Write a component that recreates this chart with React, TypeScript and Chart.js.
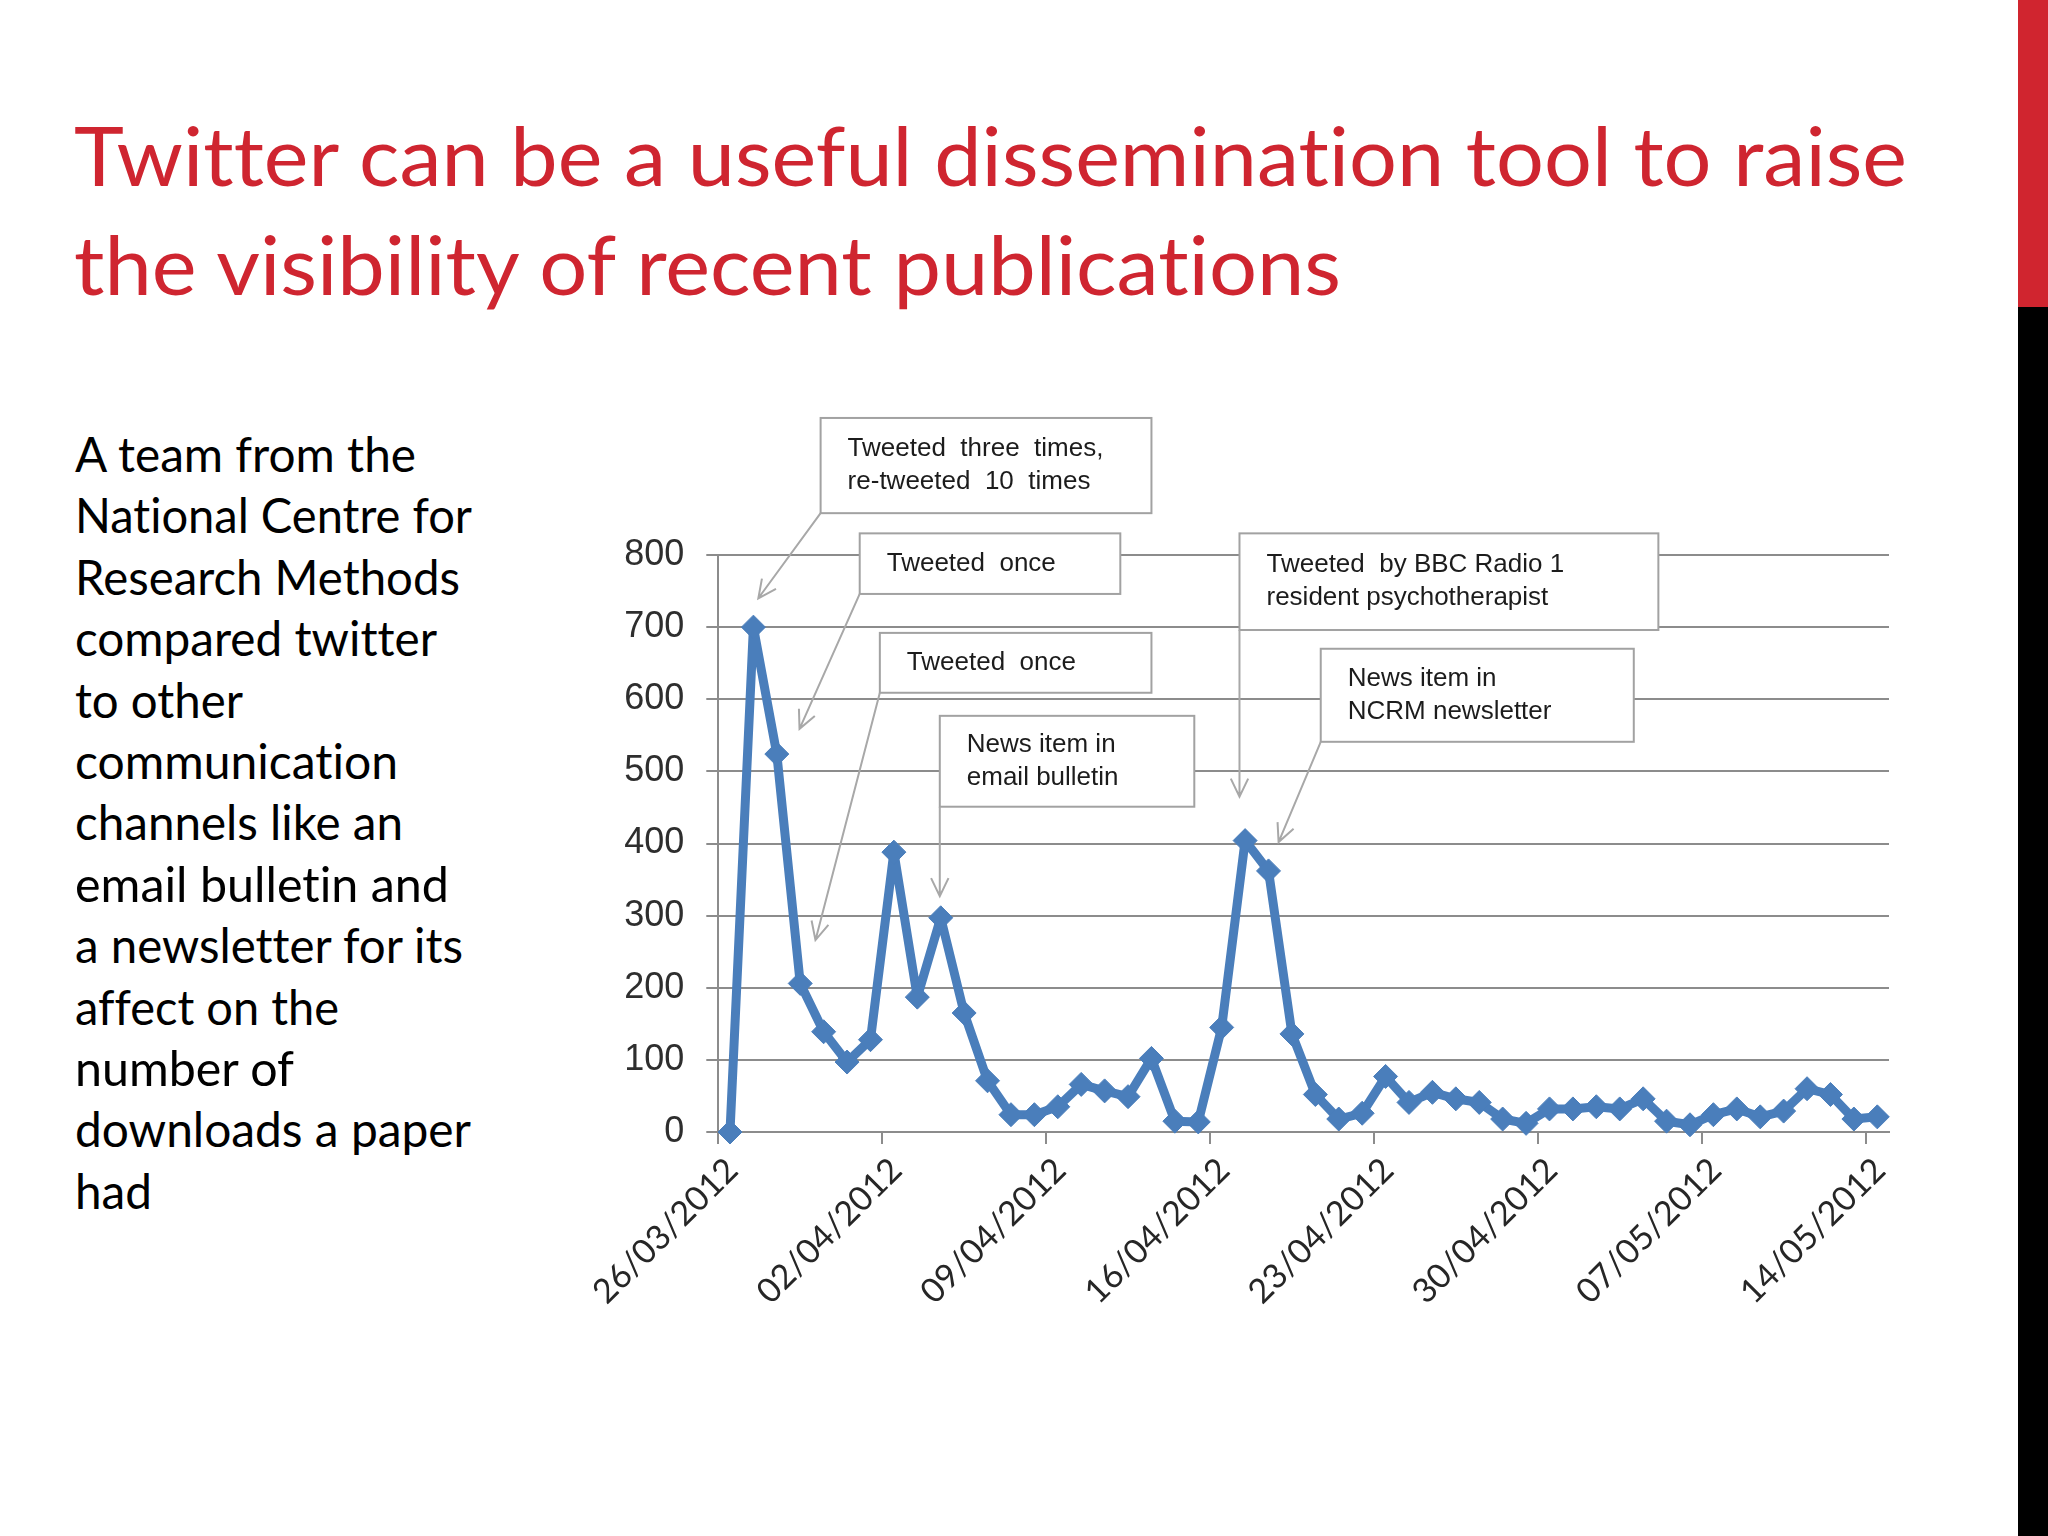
import { useEffect, useRef } from "react";
import { Chart, registerables, type Plugin } from "chart.js";

Chart.register(...registerables);

// downloads per day, 26/03/2012 .. 14/05/2012
const downloads = [
  0, 700, 524, 206, 139, 97, 128, 388, 187, 297,
  165, 71, 24, 24, 35, 66, 57, 49, 102, 15,
  14, 145, 404, 362, 136, 52, 18, 26, 77, 41,
  55, 46, 41, 18, 12, 32, 32, 35, 32, 46,
  15, 10, 24, 32, 21, 29, 60, 52, 18, 21,
];

// one label per week, first day of the series is 26/03/2012
const weekLabels = [
  "26/03/2012", "02/04/2012", "09/04/2012", "16/04/2012",
  "23/04/2012", "30/04/2012", "07/05/2012", "14/05/2012",
];

const yTicks = [0, 100, 200, 300, 400, 500, 600, 700, 800];

const titleLines = [
  { text: "Twitter can be a useful dissemination tool to raise", y: 186, w: 1833 },
  { text: "the visibility of recent publications", y: 295, w: 1267 },
];

const bodyLines = [
  { text: "A team from the", w: 341 },
  { text: "National Centre for", w: 397 },
  { text: "Research Methods", w: 385 },
  { text: "compared twitter", w: 362 },
  { text: "to other", w: 168 },
  { text: "communication", w: 323 },
  { text: "channels like an", w: 328 },
  { text: "email bulletin and", w: 374 },
  { text: "a newsletter for its", w: 388 },
  { text: "affect on the", w: 264 },
  { text: "number of", w: 219 },
  { text: "downloads a paper", w: 396 },
  { text: "had", w: 77 },
];

// callouts, placed in chart units (days, downloads)
const notes = [
  { lines: ["Tweeted  three  times,", "re-tweeted  10  times"], x0: 4.37, x1: 18.5, yTop: 990, yBottom: 858, tx: 1.71, ty: 740 },
  { lines: ["Tweeted  once"], x0: 6.04, x1: 17.17, yTop: 830, yBottom: 746, tx: 3.47, ty: 559 },
  { lines: ["Tweeted  once"], x0: 6.9, x1: 18.5, yTop: 692, yBottom: 609, tx: 4.15, ty: 266 },
  { lines: ["News item in", "email bulletin"], x0: 9.46, x1: 20.33, yTop: 577, yBottom: 451, tx: 9.46, ty: 327 },
  { lines: ["Tweeted  by BBC Radio 1", "resident psychotherapist"], x0: 22.26, x1: 40.15, yTop: 830, yBottom: 696, tx: 22.26, ty: 465 },
  { lines: ["News item in", "NCRM newsletter"], x0: 25.73, x1: 39.1, yTop: 670, yBottom: 541, tx: 23.93, ty: 402 },
];

const notesPlugin: Plugin<"line"> = {
  id: "notes",
  afterDraw(chart) {
    const { ctx } = chart;
    const x = chart.scales.x;
    const y = chart.scales.y;
    ctx.save();
    for (const n of notes) {
      const left = x.getPixelForValue(n.x0);
      const right = x.getPixelForValue(n.x1);
      const top = y.getPixelForValue(n.yTop);
      const bottom = y.getPixelForValue(n.yBottom);

      ctx.fillStyle = "#ffffff";
      ctx.fillRect(left, top, right - left, bottom - top);
      ctx.strokeStyle = "#a2a2a2";
      ctx.lineWidth = 2;
      ctx.strokeRect(left, top, right - left, bottom - top);

      ctx.fillStyle = "#1c1c1c";
      ctx.font = "26px 'Liberation Sans', Arial, sans-serif";
      ctx.textBaseline = "middle";
      ctx.textAlign = "left";
      const mid = (top + bottom) / 2;
      const lh = 33;
      n.lines.forEach((line, i) => {
        ctx.fillText(line, left + 27, mid + (i - (n.lines.length - 1) / 2) * lh);
      });

      // arrow from the lower-left corner of the box
      const tx = x.getPixelForValue(n.tx);
      const ty = y.getPixelForValue(n.ty);
      const a = Math.atan2(ty - bottom, tx - left);
      ctx.strokeStyle = "#a8a8a8";
      ctx.lineWidth = 2;
      ctx.beginPath();
      ctx.moveTo(left, bottom);
      ctx.lineTo(tx, ty);
      ctx.moveTo(tx - 20 * Math.cos(a - 0.45), ty - 20 * Math.sin(a - 0.45));
      ctx.lineTo(tx, ty);
      ctx.lineTo(tx - 20 * Math.cos(a + 0.45), ty - 20 * Math.sin(a + 0.45));
      ctx.stroke();
    }
    ctx.restore();
  },
};

function DownloadsChart() {
  const canvasRef = useRef<HTMLCanvasElement>(null);

  useEffect(() => {
    if (!canvasRef.current) return;
    const points = downloads.map((v, i) => ({ x: i + 0.5, y: v }));
    const chart = new Chart(canvasRef.current, {
      type: "line",
      data: {
        datasets: [{
          data: points,
          borderColor: "#4a7ebb",
          backgroundColor: "#4a7ebb",
          borderWidth: 9,
          borderJoinStyle: "round",
          tension: 0,
          pointStyle: "rectRot",
          pointRadius: 12,
          pointBorderWidth: 1,
          pointBorderColor: "#4a7ebb",
          clip: false,
        }],
      },
      options: {
        animation: false,
        responsive: false,
        devicePixelRatio: 1,
        layout: { padding: { top: 155, right: 30, left: 0, bottom: 0 } },
        plugins: { legend: { display: false }, tooltip: { enabled: false } },
        scales: {
          x: {
            type: "linear",
            min: 0,
            max: 50,
            afterBuildTicks: (axis) => {
              axis.ticks = weekLabels.map((_, i) => ({ value: i * 7 }));
            },
            afterFit: (axis) => { axis.height = 228; },
            grid: { drawOnChartArea: false, drawTicks: true, tickLength: 12, color: "#8c8c8c", lineWidth: 2 },
            border: { display: true, color: "#8c8c8c", width: 2 },
            ticks: {
              autoSkip: false,
              minRotation: 45,
              maxRotation: 45,
              padding: 6,
              labelOffset: 14,
              color: "#262626",
              font: { family: "Lato, 'Open Sans', sans-serif", size: 34 },
              callback: (v) => weekLabels[Math.round(Number(v) / 7)] ?? "",
            },
          },
          y: {
            min: 0,
            max: 800,
            afterBuildTicks: (axis) => {
              axis.ticks = yTicks.map((v) => ({ value: v }));
            },
            afterFit: (axis) => { axis.width = 137; },
            grid: { color: "#8c8c8c", lineWidth: 2, tickLength: 12 },
            border: { display: true, color: "#8c8c8c", width: 2 },
            ticks: {
              padding: 22,
              color: "#2e2e2e",
              font: { family: "'Liberation Sans', Arial, sans-serif", size: 36 },
            },
          },
        },
      },
      plugins: [notesPlugin],
    });
    return () => chart.destroy();
  }, []);

  return (
    <canvas
      ref={canvasRef}
      width={1340}
      height={960}
      style={{ position: "absolute", left: 579, top: 400, width: 1340, height: 960 }}
    />
  );
}

export default function App() {
  return (
    <div style={{ position: "absolute", left: 0, top: 0, width: 2048, height: 1536, background: "#ffffff", overflow: "hidden" }}>
      <svg width={2048} height={1536} style={{ position: "absolute", left: 0, top: 0, fontVariantLigatures: "none" }}>
        <rect x={2018} y={0} width={30} height={307} fill="#d0252f" />
        <rect x={2018} y={307} width={30} height={1229} fill="#000000" />
        {titleLines.map((l) => (
          <text key={l.text} x={74} y={l.y} fill="#cf2530" fontFamily="Lato, 'Open Sans', sans-serif"
            fontSize={81} textLength={l.w} lengthAdjust="spacingAndGlyphs">
            {l.text}
          </text>
        ))}
        {bodyLines.map((l, i) => (
          <text key={l.text} x={75} y={472 + i * 61.4} fill="#000000" fontFamily="Lato, 'Open Sans', sans-serif"
            fontSize={48} textLength={l.w} lengthAdjust="spacingAndGlyphs">
            {l.text}
          </text>
        ))}
      </svg>
      <DownloadsChart />
    </div>
  );
}
